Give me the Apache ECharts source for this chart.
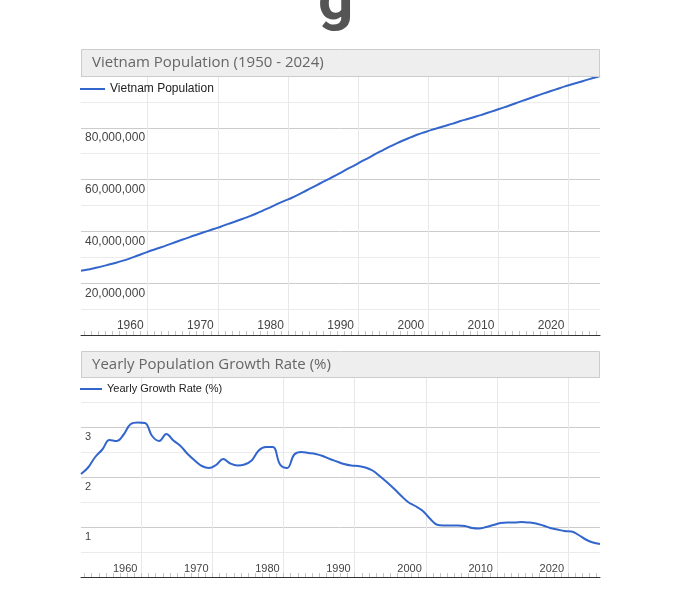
<!DOCTYPE html>
<html>
<head>
<meta charset="utf-8">
<script src="https://cdn.jsdelivr.net/npm/echarts@6/dist/echarts.min.js"></script>
<style>
  html, body { margin: 0; padding: 0; background: #ffffff; }
  #chart { width: 678px; height: 606px; }
</style>
</head>
<body>
<div id="chart"></div>
<script>
// ---------- DATA ----------
const popYears = [1950,1951,1952,1953,1954,1955,1956,1957,1958,1959,1960,1961,1962,1963,1964,1965,1966,1967,1968,1969,1970,1971,1972,1973,1974,1975,1976,1977,1978,1979,1980,1981,1982,1983,1984,1985,1986,1987,1988,1989,1990,1991,1992,1993,1994,1995,1996,1997,1998,1999,2000,2001,2002,2003,2004,2005,2006,2007,2008,2009,2010,2011,2012,2013,2014,2015,2016,2017,2018,2019,2020,2021,2022,2023,2024];
// population in millions
const populationMillions = [24.8,25.3,25.9,26.5,27.2,27.9,28.7,29.6,30.6,31.6,32.6,33.5,34.4,35.4,36.4,37.3,38.3,39.2,40.1,41.0,41.9,42.9,43.8,44.8,45.8,46.9,48.1,49.3,50.6,51.8,52.9,54.2,55.6,57.0,58.4,59.8,61.2,62.6,64.1,65.5,67.0,68.4,69.9,71.3,72.7,74.0,75.2,76.3,77.4,78.3,79.2,80.0,80.8,81.6,82.5,83.3,84.1,84.9,85.8,86.7,87.6,88.5,89.5,90.5,91.4,92.4,93.3,94.2,95.1,96.0,96.8,97.6,98.4,99.2,100.0];

const rateYears = [1951,1952,1953,1954,1955,1956,1957,1958,1959,1960,1961,1962,1963,1964,1965,1966,1967,1968,1969,1970,1971,1972,1973,1974,1975,1976,1977,1978,1979,1980,1981,1982,1983,1984,1985,1986,1987,1988,1989,1990,1991,1992,1993,1994,1995,1996,1997,1998,1999,2000,2001,2002,2003,2004,2005,2006,2007,2008,2009,2010,2011,2012,2013,2014,2015,2016,2017,2018,2019,2020,2021,2022,2023,2024];
const growthRate = [2.06,2.19,2.40,2.55,2.74,2.72,2.85,3.06,3.09,3.08,2.82,2.72,2.86,2.73,2.62,2.46,2.33,2.22,2.18,2.24,2.36,2.27,2.23,2.25,2.33,2.53,2.60,2.60,2.25,2.18,2.45,2.50,2.48,2.46,2.42,2.36,2.31,2.26,2.23,2.22,2.19,2.13,2.02,1.90,1.77,1.63,1.50,1.42,1.33,1.18,1.05,1.03,1.03,1.03,1.02,0.98,0.97,1.00,1.04,1.08,1.09,1.09,1.10,1.09,1.07,1.03,0.98,0.95,0.92,0.91,0.84,0.75,0.69,0.66];

const tickYears = [1960,1970,1980,1990,2000,2010,2020];
const popTickLabels = [20,40,60,80];      // millions
const rateTickLabels = [1,2,3];

const headingFragment = 'g';
const topTitle = 'Vietnam Population (1950 - 2024)';
const bottomTitle = 'Yearly Population Growth Rate (%)';
const popSeriesName = 'Vietnam Population';
const rateSeriesName = 'Yearly Growth Rate (%)';

// ---------- helpers ----------
const BLUE = '#3366cc';
const FONT = 'Arial, "Liberation Sans", sans-serif';
// ticks sit at the start of each year, points at mid-year
const boundaryTicks = tickYears.map(y => y - 0.5);
function yearBounds(first, last) {
  const out = [];
  for (let y = first; y <= last; y++) out.push(y - 0.5);
  return out;
}

function majorX(gridIndex, min, max, fontSize) {
  return {
    type: 'value', gridIndex, min, max, position: 'bottom',
    axisLine: { show: false },
    axisTick: { show: false, customValues: boundaryTicks },
    axisLabel: {
      customValues: boundaryTicks, inside: true, margin: 3,
      align: 'right', verticalAlign: 'bottom', padding: [0, 4, 0, 0],
      color: '#444', fontFamily: FONT, fontSize,
      formatter: v => String(Math.round(v + 0.5))
    },
    splitLine: { show: true, lineStyle: { color: '#e8e8e8', width: 1 } }
  };
}
function minorX(gridIndex, min, max) {
  return {
    type: 'value', gridIndex, min, max, position: 'bottom',
    axisLine: { show: true, lineStyle: { color: '#333', width: 1 } },
    axisTick: { show: true, inside: true, length: 4, customValues: yearBounds(min + 1, max),
      lineStyle: { color: '#c4c4c4', width: 1 } },
    axisLabel: { show: false },
    splitLine: { show: false }
  };
}

const chart = echarts.init(document.getElementById('chart'), null, { renderer: 'canvas' });

const option = {
  animation: false,
  backgroundColor: '#ffffff',
  graphic: [
    { type: 'text', x: 318, y: 34, z: 100,
      style: { text: headingFragment, font: 'bold 62px Roboto', fill: '#555555', verticalAlign: 'bottom' } },
    { type: 'rect', z: 100, shape: { x: 81.5, y: 49.5, width: 518, height: 27 },
      style: { fill: '#eeeeee', stroke: '#cccccc', lineWidth: 1 } },
    { type: 'text', z: 101, x: 92, y: 63,
      style: { text: topTitle, font: '15px "Open Sans"', fill: '#666666', verticalAlign: 'middle' } },
    { type: 'rect', z: 100, shape: { x: 81.5, y: 351.5, width: 518, height: 26 },
      style: { fill: '#eeeeee', stroke: '#cccccc', lineWidth: 1 } },
    { type: 'text', z: 101, x: 92, y: 364.5,
      style: { text: bottomTitle, font: '15px "Open Sans"', fill: '#666666', verticalAlign: 'middle' } }
  ],
  legend: [
    { data: [popSeriesName], left: 80, top: 82, padding: 0, icon: 'rect',
      itemWidth: 25, itemHeight: 2,
      textStyle: { color: '#222', fontFamily: FONT, fontSize: 12, lineHeight: 14 } },
    { data: [rateSeriesName], left: 80, top: 382, padding: 0, icon: 'rect',
      itemWidth: 22, itemHeight: 2,
      textStyle: { color: '#222', fontFamily: FONT, fontSize: 11, lineHeight: 14 } }
  ],
  grid: [
    { left: 81, right: 78, top: 76, height: 259 },
    { left: 81, right: 78, top: 377, height: 200 }
  ],
  xAxis: [
    majorX(0, 1950, 2024, 12),
    minorX(0, 1950, 2024),
    majorX(1, 1951, 2024, 11),
    minorX(1, 1951, 2024)
  ],
  yAxis: [
    {
      type: 'value', gridIndex: 0, min: 0, max: 100, interval: 20,
      axisLine: { show: false }, axisTick: { show: false },
      axisLabel: { customValues: popTickLabels, inside: true, margin: 4, align: 'left',
        verticalAlign: 'top', padding: [4, 0, 0, 0], color: '#444', fontFamily: FONT, fontSize: 12,
        formatter: v => (v * 1e6).toLocaleString('en-US') },
      splitLine: { show: true, lineStyle: { color: '#cccccc' } },
      minorTick: { show: false, splitNumber: 2 },
      minorSplitLine: { show: true, lineStyle: { color: '#ebebeb' } }
    },
    {
      type: 'value', gridIndex: 1, min: 0, max: 4, interval: 1,
      axisLine: { show: false }, axisTick: { show: false },
      axisLabel: { customValues: rateTickLabels, inside: true, margin: 4, align: 'left',
        verticalAlign: 'top', padding: [4, 0, 0, 0], color: '#444', fontFamily: FONT, fontSize: 11 },
      splitLine: { show: true, lineStyle: { color: '#cccccc' } },
      minorTick: { show: false, splitNumber: 2 },
      minorSplitLine: { show: true, lineStyle: { color: '#ebebeb' } }
    }
  ],
  series: [
    { name: popSeriesName, type: 'line', xAxisIndex: 0, yAxisIndex: 0,
      data: popYears.map((y, i) => [y, populationMillions[i]]),
      showSymbol: false, smooth: 0.3, color: BLUE,
      lineStyle: { color: BLUE, width: 2 } },
    { name: rateSeriesName, type: 'line', xAxisIndex: 2, yAxisIndex: 1,
      data: rateYears.map((y, i) => [y, growthRate[i]]),
      showSymbol: false, smooth: 0.4, color: BLUE,
      lineStyle: { color: BLUE, width: 2 } }
  ]
};
chart.setOption(option);
</script>
</body>
</html>
